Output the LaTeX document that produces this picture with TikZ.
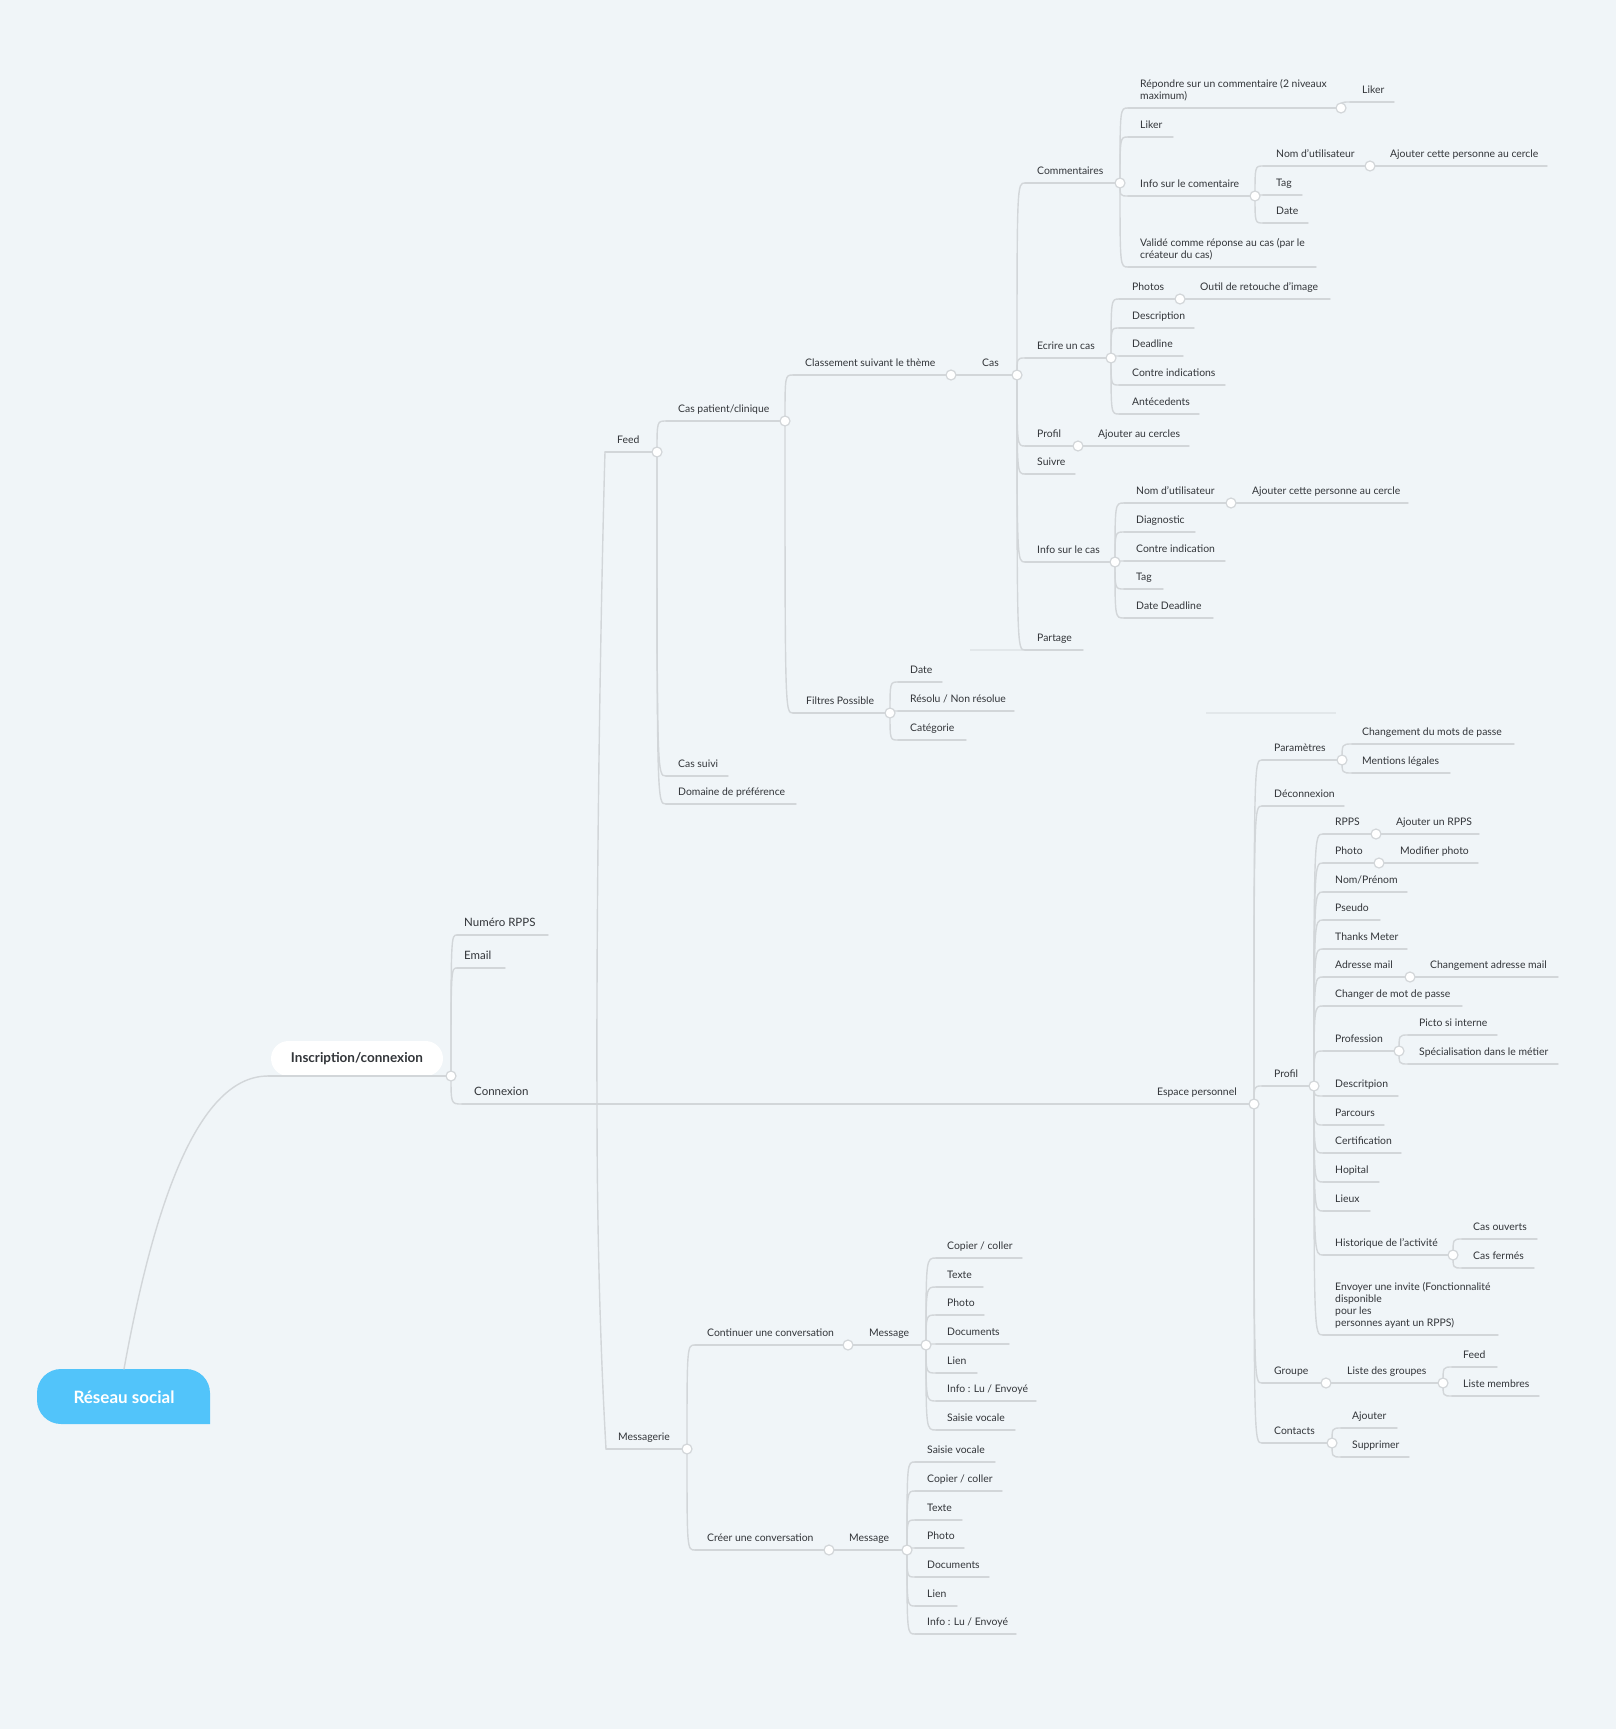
\documentclass[tikz,border=0pt]{standalone}
\usepackage{fontspec}
\setmainfont{Lato}
\definecolor{bgcol}{RGB}{240,245,248}
\definecolor{linecol}{RGB}{210,214,217}
\definecolor{ghostcol}{RGB}{226,231,234}
\definecolor{txtcol}{RGB}{50,53,57}
\definecolor{rootblue}{RGB}{82,196,250}
\newcommand\mmitem[6]{%
  \coordinate (#1-s) at (#2,#5);
  \coordinate (#1-e) at (#4,#5);
  \draw[ul] (#1-s) -- (#1-e);
  \node[lbl] (#1) at (#3,#5) {#6};
}
\newcommand\mmbig[6]{%
  \coordinate (#1-s) at (#2,#5);
  \coordinate (#1-e) at (#4,#5);
  \draw[ul] (#1-s) -- (#1-e);
  \node[lbl,font=\fontsize{11.5}{13}\selectfont] (#1) at (#3,#5) {#6};
}
\newcommand\mmdot[1]{\node[dot] (#1-c) at (#1-e) {};}
\newcommand\mmlink[2]{\draw[ul] (#1-e) to[mm] (#2-s);}
\begin{document}
\begin{tikzpicture}[x=1pt,y=-1pt,
  ul/.style={draw=linecol,line width=1.4pt,line cap=round},
  ghost/.style={draw=ghostcol,line width=1.2pt},
  lbl/.style={anchor=base west,inner sep=0pt,yshift=8.5pt,text=txtcol,align=left,
    font=\fontsize{10.4}{12}\selectfont},
  dot/.style={circle,draw=linecol,line width=1.2pt,fill=white,minimum size=10pt,inner sep=0pt},
  mm/.style={to path={.. controls (\tikztostart |- \tikztotarget) and (\tikztostart |- \tikztotarget) .. (\tikztotarget)}}]
\useasboundingbox (0,0) rectangle (1616,1729);
\fill[bgcol] (0,0) rectangle (1616,1729);
% ghost lines
\draw[ghost] (1206,713) -- (1336,713);
\draw[ghost] (970,650) -- (1025,650);
% root
\fill[rootblue] (210,1424) [rounded corners=24pt] -- (37,1424) -- (37,1369) -- (210,1369) [sharp corners] -- cycle;
\node[text=white,font=\fontsize{17}{20}\bfseries] (root) at (124,1397) {Réseau social};
\coordinate (root-t) at (124,1369);
% inscription
\node[fill=white,rounded corners=17.5pt,minimum width=172pt,minimum height=35pt,inner sep=0pt,
  text=txtcol,font=\fontsize{13.5}{16}\bfseries] (insc) at (357,1058.5) {Inscription/connexion};
\coordinate (insc-s) at (268,1076);
\coordinate (insc-e) at (451,1076);
\draw[ul] (root-t) .. controls (152,1215) and (195,1076) .. (insc-s);
\draw[ul] (insc-s) -- (insc-e);
% level 2
\mmbig{rpps}{457}{464}{548}{935}{Numéro RPPS}
\mmbig{email}{457}{464}{505}{968}{Email}
\mmbig{cnx}{462}{474}{1254}{1104}{Connexion}
\mmitem{esp}{1254}{1157}{1254}{1104}{Espace personnel}
% feed branch
\mmitem{feed}{605}{617}{657}{452}{Feed}
\mmitem{caspat}{666}{678}{785}{421}{Cas patient/clinique}
\mmitem{cassuivi}{666}{678}{728}{776}{Cas suivi}
\mmitem{domaine}{666}{678}{796}{804}{Domaine de préférence}
\mmitem{classement}{793}{805}{951}{375}{Classement suivant le thème}
\mmitem{filtres}{793}{806}{890}{713}{Filtres Possible}
\mmitem{cas}{951}{982}{1017}{375}{Cas}
\mmitem{fdate}{898}{910}{942}{682}{Date}
\mmitem{fresolu}{898}{910}{1014}{711}{Résolu / Non résolue}
\mmitem{fcat}{898}{910}{966}{740}{Catégorie}
\mmitem{comm}{1025}{1037}{1120}{183}{Commentaires}
\mmitem{ecrire}{1025}{1037}{1111}{358}{Ecrire un cas}
\mmitem{cprofil}{1025}{1037}{1078}{446}{Profil}
\mmitem{suivre}{1025}{1037}{1075}{474}{Suivre}
\mmitem{infocas}{1025}{1037}{1115}{562}{Info sur le cas}
\mmitem{partage}{1025}{1037}{1083}{650}{Partage}
\mmitem{repondre}{1128}{1140}{1341}{108}{Répondre sur un commentaire (2 niveaux\\maximum)}
\mmitem{liker}{1128}{1140}{1173}{137}{Liker}
\mmitem{infocom}{1128}{1140}{1255}{196}{Info sur le comentaire}
\mmitem{valide}{1128}{1140}{1316}{267}{Validé comme réponse au cas (par le\\créateur du cas)}
\mmitem{rliker}{1350}{1362}{1394}{102}{Liker}
\mmitem{nomu}{1263}{1276}{1370}{166}{Nom d'utilisateur}
\mmitem{ctag}{1263}{1276}{1302}{195}{Tag}
\mmitem{cdate}{1263}{1276}{1308}{223}{Date}
\mmitem{ajc}{1370}{1390}{1547}{166}{Ajouter cette personne au cercle}
\mmitem{photos}{1119}{1132}{1180}{299}{Photos}
\mmitem{descr}{1119}{1132}{1194}{328}{Description}
\mmitem{deadline}{1119}{1132}{1183}{356}{Deadline}
\mmitem{contreind}{1119}{1132}{1225}{385}{Contre indications}
\mmitem{antec}{1119}{1132}{1199}{414}{Antécedents}
\mmitem{outil}{1180}{1200}{1330}{299}{Outil de retouche d'image}
\mmitem{ajcercles}{1078}{1098}{1189}{446}{Ajouter au cercles}
\mmitem{nomub}{1124}{1136}{1231}{503}{Nom d'utilisateur}
\mmitem{diag}{1124}{1136}{1195}{532}{Diagnostic}
\mmitem{contreindb}{1124}{1136}{1225}{561}{Contre indication}
\mmitem{itag}{1124}{1136}{1163}{589}{Tag}
\mmitem{datedl}{1124}{1136}{1213}{618}{Date Deadline}
\mmitem{ajcb}{1231}{1252}{1408}{503}{Ajouter cette personne au cercle}
% messagerie branch
\mmitem{mess}{606}{618}{687}{1449}{Messagerie}
\mmitem{contconv}{695}{707}{848}{1345}{Continuer une conversation}
\mmitem{creerconv}{695}{707}{829}{1550}{Créer une conversation}
\mmitem{msga}{848}{869}{926}{1345}{Message}
\mmitem{msgb}{829}{849}{907}{1550}{Message}
\mmitem{macopier}{936}{947}{1022}{1258}{Copier / coller}
\mmitem{matexte}{936}{947}{983}{1287}{Texte}
\mmitem{maphoto}{936}{947}{984}{1315}{Photo}
\mmitem{madocs}{936}{947}{1009}{1344}{Documents}
\mmitem{malien}{936}{947}{977}{1373}{Lien}
\mmitem{mainfo}{936}{947}{1036}{1401}{Info : Lu / Envoyé}
\mmitem{masaisie}{936}{947}{1015}{1430}{Saisie vocale}
\mmitem{mbsaisie}{915}{927}{995}{1462}{Saisie vocale}
\mmitem{mbcopier}{915}{927}{1002}{1491}{Copier / coller}
\mmitem{mbtexte}{915}{927}{962}{1520}{Texte}
\mmitem{mbphoto}{915}{927}{964}{1548}{Photo}
\mmitem{mbdocs}{915}{927}{989}{1577}{Documents}
\mmitem{mblien}{915}{927}{957}{1606}{Lien}
\mmitem{mbinfo}{915}{927}{1016}{1634}{Info : Lu / Envoyé}
% espace personnel branch
\mmitem{param}{1262}{1274}{1342}{760}{Paramètres}
\mmitem{deconn}{1262}{1274}{1344}{806}{Déconnexion}
\mmitem{eprofil}{1262}{1274}{1314}{1086}{Profil}
\mmitem{groupe}{1262}{1274}{1326}{1383}{Groupe}
\mmitem{contacts}{1262}{1274}{1332}{1443}{Contacts}
\mmitem{chmdp}{1352}{1362}{1514}{744}{Changement du mots de passe}
\mmitem{mentions}{1352}{1362}{1450}{773}{Mentions légales}
\mmitem{prpps}{1323}{1335}{1376}{834}{RPPS}
\mmitem{pphoto}{1323}{1335}{1379}{863}{Photo}
\mmitem{nomprenom}{1323}{1335}{1407}{892}{Nom/Prénom}
\mmitem{pseudo}{1323}{1335}{1380}{920}{Pseudo}
\mmitem{thanks}{1323}{1335}{1407}{949}{Thanks Meter}
\mmitem{adrmail}{1323}{1335}{1410}{977}{Adresse mail}
\mmitem{chgmdp}{1323}{1335}{1462}{1006}{Changer de mot de passe}
\mmitem{profession}{1323}{1335}{1399}{1051}{Profession}
\mmitem{descritpion}{1323}{1335}{1398}{1096}{Descritpion}
\mmitem{parcours}{1323}{1335}{1384}{1125}{Parcours}
\mmitem{certif}{1323}{1335}{1401}{1153}{Certification}
\mmitem{hopital}{1323}{1335}{1379}{1182}{Hopital}
\mmitem{lieux}{1323}{1335}{1370}{1211}{Lieux}
\mmitem{histo}{1323}{1335}{1453}{1255}{Historique de l'activité}
\mmitem{envoyer}{1323}{1335}{1498}{1335}{Envoyer une invite (Fonctionnalité\\disponible\\pour les\\personnes ayant un RPPS)}
\mmitem{ajrpps}{1376}{1396}{1479}{834}{Ajouter un RPPS}
\mmitem{modphoto}{1379}{1400}{1478}{863}{Modifier photo}
\mmitem{chgmail}{1410}{1430}{1558}{977}{Changement adresse mail}
\mmitem{picto}{1408}{1419}{1497}{1035}{Picto si interne}
\mmitem{specia}{1408}{1419}{1558}{1064}{Spécialisation dans le métier}
\mmitem{casouv}{1462}{1473}{1537}{1239}{Cas ouverts}
\mmitem{casferm}{1462}{1473}{1534}{1268}{Cas fermés}
\mmitem{listeg}{1326}{1347}{1443}{1383}{Liste des groupes}
\mmitem{gfeed}{1452}{1463}{1497}{1367}{Feed}
\mmitem{gmembres}{1452}{1463}{1539}{1396}{Liste membres}
\mmitem{cajouter}{1341}{1352}{1397}{1428}{Ajouter}
\mmitem{csuppr}{1341}{1352}{1409}{1457}{Supprimer}
% connectors
\mmlink{insc}{rpps}\mmlink{insc}{email}\mmlink{insc}{cnx}
\coordinate (hub) at (597,1104);
\draw[ul] (hub) .. controls (596,800) and (604,480) .. (feed-s);
\draw[ul] (hub) .. controls (597,1300) and (605,1430) .. (mess-s);
\mmlink{feed}{caspat}\mmlink{feed}{cassuivi}\mmlink{feed}{domaine}
\mmlink{caspat}{classement}\mmlink{caspat}{filtres}
\mmlink{filtres}{fdate}\mmlink{filtres}{fresolu}\mmlink{filtres}{fcat}
\mmlink{cas}{comm}\mmlink{cas}{ecrire}\mmlink{cas}{cprofil}\mmlink{cas}{suivre}\mmlink{cas}{infocas}\mmlink{cas}{partage}
\mmlink{comm}{repondre}\mmlink{comm}{liker}\mmlink{comm}{infocom}\mmlink{comm}{valide}
\mmlink{repondre}{rliker}
\mmlink{infocom}{nomu}\mmlink{infocom}{ctag}\mmlink{infocom}{cdate}
\mmlink{ecrire}{photos}\mmlink{ecrire}{descr}\mmlink{ecrire}{deadline}\mmlink{ecrire}{contreind}\mmlink{ecrire}{antec}
\mmlink{infocas}{nomub}\mmlink{infocas}{diag}\mmlink{infocas}{contreindb}\mmlink{infocas}{itag}\mmlink{infocas}{datedl}
\mmlink{mess}{contconv}\mmlink{mess}{creerconv}
\mmlink{msga}{macopier}\mmlink{msga}{matexte}\mmlink{msga}{maphoto}\mmlink{msga}{madocs}\mmlink{msga}{malien}\mmlink{msga}{mainfo}\mmlink{msga}{masaisie}
\mmlink{msgb}{mbsaisie}\mmlink{msgb}{mbcopier}\mmlink{msgb}{mbtexte}\mmlink{msgb}{mbphoto}\mmlink{msgb}{mbdocs}\mmlink{msgb}{mblien}\mmlink{msgb}{mbinfo}
\mmlink{esp}{param}\mmlink{esp}{deconn}\mmlink{esp}{eprofil}\mmlink{esp}{groupe}\mmlink{esp}{contacts}
\mmlink{param}{chmdp}\mmlink{param}{mentions}
\mmlink{eprofil}{prpps}\mmlink{eprofil}{pphoto}\mmlink{eprofil}{nomprenom}\mmlink{eprofil}{pseudo}\mmlink{eprofil}{thanks}
\mmlink{eprofil}{adrmail}\mmlink{eprofil}{chgmdp}\mmlink{eprofil}{profession}\mmlink{eprofil}{descritpion}\mmlink{eprofil}{parcours}
\mmlink{eprofil}{certif}\mmlink{eprofil}{hopital}\mmlink{eprofil}{lieux}\mmlink{eprofil}{histo}\mmlink{eprofil}{envoyer}
\mmlink{profession}{picto}\mmlink{profession}{specia}
\mmlink{histo}{casouv}\mmlink{histo}{casferm}
\mmlink{listeg}{gfeed}\mmlink{listeg}{gmembres}
\mmlink{contacts}{cajouter}\mmlink{contacts}{csuppr}
% dots
\mmdot{insc}\mmdot{feed}\mmdot{caspat}\mmdot{classement}\mmdot{cas}\mmdot{filtres}
\mmdot{comm}\mmdot{repondre}\mmdot{infocom}\mmdot{nomu}\mmdot{ecrire}\mmdot{photos}
\mmdot{cprofil}\mmdot{infocas}\mmdot{nomub}
\mmdot{mess}\mmdot{contconv}\mmdot{creerconv}\mmdot{msga}\mmdot{msgb}
\mmdot{esp}\mmdot{param}\mmdot{eprofil}\mmdot{groupe}\mmdot{contacts}
\mmdot{prpps}\mmdot{pphoto}\mmdot{adrmail}\mmdot{profession}\mmdot{histo}\mmdot{listeg}
\end{tikzpicture}
\end{document}
